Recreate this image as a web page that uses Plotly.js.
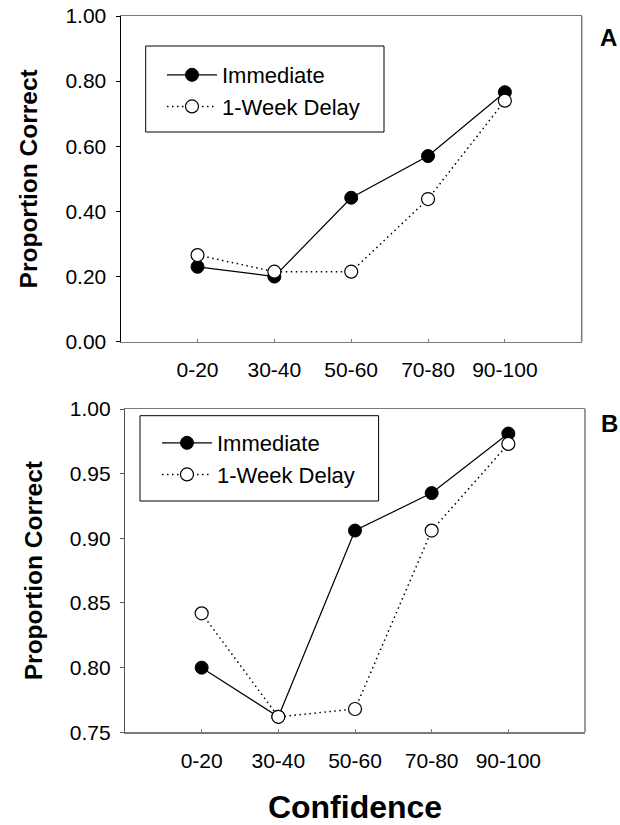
<!DOCTYPE html>
<html>
<head>
<meta charset="utf-8">
<script src="https://cdn.plot.ly/plotly-3.0.1.min.js"></script>
<style>
  html, body { margin: 0; padding: 0; background: #ffffff; }
  #chart { width: 620px; height: 825px; }
</style>
</head>
<body>
<div id="chart"></div>
<script>
// ---- data ----
const categories = ["0-20", "30-40", "50-60", "70-80", "90-100"];
const seriesNames = ["Immediate", "1-Week Delay"];
const immediateA = [0.230, 0.200, 0.442, 0.570, 0.766];
const delayA     = [0.266, 0.215, 0.215, 0.438, 0.740];
const immediateB = [0.800, 0.762, 0.906, 0.935, 0.981];
const delayB     = [0.842, 0.762, 0.768, 0.906, 0.973];
const yTicksA = [0.00, 0.20, 0.40, 0.60, 0.80, 1.00];
const yTicksB = [0.75, 0.80, 0.85, 0.90, 0.95, 1.00];
const panelLabels = ["A", "B"];

const FONT = "Liberation Sans, Arial, Helvetica, sans-serif";

function immTrace(y, xa, ya, lg) {
  return {
    x: categories, y: y, xaxis: xa, yaxis: ya, legend: lg,
    name: seriesNames[0], type: "scatter", mode: "lines+markers",
    line: { color: "#000000", width: 1.2 },
    marker: { symbol: "circle", size: 13, color: "#000000",
              line: { color: "#000000", width: 1 } },
    showlegend: true, cliponaxis: false
  };
}
function delTrace(y, xa, ya, lg) {
  return {
    x: categories, y: y, xaxis: xa, yaxis: ya, legend: lg,
    name: seriesNames[1], type: "scatter", mode: "lines+markers",
    line: { color: "#000000", width: 1.5, dash: "1.5px,3.5px" },
    marker: { symbol: "circle", size: 13, color: "#ffffff",
              line: { color: "#000000", width: 1.2 } },
    showlegend: true, cliponaxis: false
  };
}

const data = [
  immTrace(immediateA, "x", "y", "legend"),
  delTrace(delayA, "x", "y", "legend"),
  immTrace(immediateB, "x2", "y2", "legend2"),
  delTrace(delayB, "x2", "y2", "legend2")
];

function xAxis(domain, anchor, title) {
  const ax = {
    domain: domain, anchor: anchor, type: "category",
    categoryorder: "array", categoryarray: categories,
    range: [-1, 5], showgrid: false, zeroline: false,
    showline: true, linecolor: "#7a7a7a", linewidth: 1.5, mirror: true,
    ticks: "inside", ticklen: 3, tickcolor: "#7a7a7a", tickwidth: 1,
    tickfont: { family: FONT, size: 21, color: "#000000" },
    ticklabelstandoff: 9,
    fixedrange: true
  };
  if (title) {
    ax.title = { text: title, font: { family: FONT, size: 32, color: "#000000", weight: "bold" }, standoff: 34 };
  }
  return ax;
}
function yAxis(domain, anchor, range, ticks, lineColor) {
  return {
    domain: domain, anchor: anchor, range: range,
    tickmode: "array", tickvals: ticks, ticktext: ticks.map(v => v.toFixed(2)),
    showgrid: false, zeroline: false,
    showline: true, linecolor: lineColor, linewidth: 1.2, mirror: false,
    ticks: "outside", ticklen: 4, tickcolor: lineColor, tickwidth: 1,
    tickfont: { family: FONT, size: 21, color: "#000000" },
    ticklabelstandoff: 5,
    title: { text: "Proportion Correct", font: { family: FONT, size: 24.5, color: "#000000", weight: "bold" }, standoff: 20 },
    fixedrange: true
  };
}

const W = 620, H = 825;
const legendFont = { family: FONT, size: 22, color: "#000000" };
const layout = {
  width: W, height: H,
  margin: { l: 0, r: 0, t: 0, b: 0 },
  paper_bgcolor: "#ffffff", plot_bgcolor: "#ffffff",
  font: { family: FONT, color: "#000000" },
  xaxis: xAxis([120.7 / W, 581.7 / W], "y", null),
  yaxis: yAxis([1 - 341.7 / H, 1 - 16 / H], "x", [0, 1], yTicksA, "#000000"),
  xaxis2: xAxis([125 / W, 585 / W], "y2", "Confidence"),
  yaxis2: yAxis([1 - 732.3 / H, 1 - 409 / H], "x2", [0.75, 1], yTicksB, "#555555"),
  legend: {
    x: 162 / W, y: 1 - 54 / H, xanchor: "left", yanchor: "top",
    bgcolor: "rgba(0,0,0,0)", borderwidth: 0,
    font: legendFont, itemwidth: 50
  },
  legend2: {
    x: 157 / W, y: 1 - 422 / H, xanchor: "left", yanchor: "top",
    bgcolor: "rgba(0,0,0,0)", borderwidth: 0,
    font: legendFont, itemwidth: 50
  },
  shapes: [
    // right frame edges
    { type: "line", xref: "x domain", yref: "y domain", x0: 1, x1: 1, y0: 0, y1: 1,
      line: { color: "#7a7a7a", width: 1.5 } },
    { type: "line", xref: "x2 domain", yref: "y2 domain", x0: 1, x1: 1, y0: 0, y1: 1,
      line: { color: "#7a7a7a", width: 1.5 } },
    // legend boxes
    { type: "rect", xref: "paper", yref: "paper", layer: "below",
      x0: 145.7 / W, x1: 384 / W, y0: 1 - 132 / H, y1: 1 - 46 / H,
      line: { color: "#000000", width: 1 }, fillcolor: "#ffffff" },
    { type: "rect", xref: "paper", yref: "paper", layer: "below",
      x0: 140 / W, x1: 378.6 / W, y0: 1 - 501 / H, y1: 1 - 415.7 / H,
      line: { color: "#000000", width: 1 }, fillcolor: "#ffffff" }
  ],
  annotations: [
    { text: panelLabels[0], xref: "paper", yref: "paper", x: 608 / W, y: 1 - 38 / H,
      xanchor: "center", yanchor: "middle", showarrow: false,
      font: { family: FONT, size: 24, color: "#000000", weight: "bold" } },
    { text: panelLabels[1], xref: "paper", yref: "paper", x: 609 / W, y: 1 - 423 / H,
      xanchor: "center", yanchor: "middle", showarrow: false,
      font: { family: FONT, size: 24, color: "#000000", weight: "bold" } }
  ]
};

Plotly.newPlot("chart", data, layout, { displayModeBar: false, staticPlot: true });
</script>
</body>
</html>
